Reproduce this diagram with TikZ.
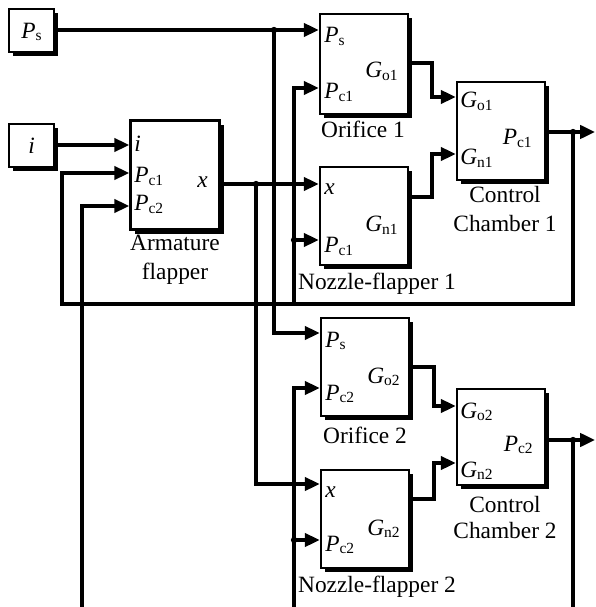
\documentclass[tikz,border=0pt]{standalone}
\usepackage{fontspec}
\setmainfont{Liberation Serif}
\usetikzlibrary{arrows.meta,shadows}
\newcommand\sig[2]{\textit{#1}\raisebox{-1.6pt}{\fontsize{8.8}{9}\selectfont #2}}
\begin{document}
\begin{tikzpicture}[x=0.02cm,y=-0.02cm,
  blk/.style={draw,fill=white,line width=1.5pt,inner sep=0pt,
    drop shadow={shadow xshift=2.4pt,shadow yshift=-2.4pt,fill=black,opacity=1}},
  wire/.style={line width=1.9pt},
  arr/.style={wire,-{Triangle[length=8.5pt,width=7.6pt]}},
  jdot/.style={circle,fill=black,inner sep=0pt,minimum size=3.6pt},
  txt/.style={inner sep=0pt,font=\fontsize{13.3}{15}\selectfont},
]
\useasboundingbox (0,0) rectangle (595,607);
% blocks
\node[blk,minimum width=0.9cm,minimum height=0.86cm] (srcPs) at (31.5,30.5) {};
\node[blk,minimum width=0.9cm,minimum height=0.86cm] (srci) at (31.5,145.5) {};
\node[blk,minimum width=1.78cm,minimum height=2.18cm] (arm) at (175,175) {};
\node[blk,minimum width=1.76cm,minimum height=2.0cm] (orf1) at (364,64) {};
\node[blk,minimum width=1.76cm,minimum height=1.96cm] (noz1) at (364,216) {};
\node[blk,minimum width=1.76cm,minimum height=1.96cm] (cc1) at (501,131) {};
\node[blk,minimum width=1.76cm,minimum height=1.96cm] (orf2) at (365,367) {};
\node[blk,minimum width=1.76cm,minimum height=1.96cm] (noz2) at (365,519) {};
\node[blk,minimum width=1.76cm,minimum height=1.92cm] (cc2) at (501,437) {};
% coordinates
\coordinate (jPs) at (274,30);
\coordinate (jX) at (256,184);
\coordinate (jC1) at (573,132);
\coordinate (jC2) at (573,440);
\coordinate (fbL) at (62,304);
\coordinate (jFb) at (294,304);
\coordinate (jN1) at (294,240);
\coordinate (jN2) at (294,540);
\coordinate (bA) at (82,610);
\coordinate (bV) at (294,610);
\coordinate (bR) at (573,610);
\coordinate (outC1) at (595,132);
\coordinate (outC2) at (595,440);
\coordinate (yI) at (0,145);
\coordinate (yA1) at (0,173);
\coordinate (yA2) at (0,206);
\coordinate (yO1) at (0,88);
\coordinate (yS2) at (0,333);
\coordinate (yO2) at (0,388);
\coordinate (yX2) at (0,484);
\coordinate (yC1a) at (0,97);
\coordinate (yC1b) at (0,154);
\coordinate (yC2a) at (0,406);
\coordinate (yC2b) at (0,463);
\coordinate (m1) at (432,63);
\coordinate (m2) at (432,197);
\coordinate (m3) at (434,367);
\coordinate (m4) at (434,499);
% connectors
\draw[arr] (srcPs.east |- jPs) -- (orf1.west |- jPs);
\draw[arr] (jPs) |- (orf2.west |- yS2);
\draw[arr] (srci.east |- yI) -- (arm.west |- yI);
\draw[arr] (arm.east |- jX) -- (noz1.west |- jX);
\draw[arr] (jX) |- (noz2.west |- yX2);
\draw[arr] (orf1.east |- m1) -- (m1) |- (cc1.west |- yC1a);
\draw[arr] (noz1.east |- m2) -- (m2) |- (cc1.west |- yC1b);
\draw[arr] (cc1.east |- jC1) -- (outC1);
\draw[arr] (jC1) -- (jC1 |- fbL) -- (fbL) |- (arm.west |- yA1);
\draw[arr] (jFb) |- (orf1.west |- yO1);
\draw[arr] (jN1) -- (noz1.west |- jN1);
\draw[arr] (cc2.east |- jC2) -- (outC2);
\draw[wire] (jC2) -- (bR);
\draw[arr] (bA) |- (arm.west |- yA2);
\draw[arr] (bV) |- (orf2.west |- yO2);
\draw[arr] (jN2) -- (noz2.west |- jN2);
\draw[arr] (orf2.east |- m3) -- (m3) |- (cc2.west |- yC2a);
\draw[arr] (noz2.east |- m4) -- (m4) |- (cc2.west |- yC2b);
\foreach \p in {jPs,jX,jC1,jC2,jN1,jN2} \node[jdot] (d\p) at (\p) {};
% labels in source boxes
\node[txt] (tPs) at (31.5,32) {\sig{P}{s}};
\node[txt] (ti) at (31.5,146) {\textit{i}};
% armature
\node[txt,anchor=base west] (a1) at (134,152) {\textit{i}};
\node[txt,anchor=base west] (a2) at (134,183) {\sig{P}{c1}};
\node[txt,anchor=base west] (a3) at (134,211) {\sig{P}{c2}};
\node[txt,anchor=base east] (a4) at (208,188) {\textit{x}};
\node[txt,anchor=base] (a5) at (175,251) {Armature};
\node[txt,anchor=base] (a6) at (175,279) {flapper};
% orifice 1
\node[txt,anchor=base west] (o1a) at (324,43) {\sig{P}{s}};
\node[txt,anchor=base west] (o1b) at (324,99) {\sig{P}{c1}};
\node[txt,anchor=base east] (o1c) at (398,78) {\sig{G}{o1}};
\node[txt,anchor=base] (o1d) at (363,138) {Orifice 1};
% nozzle 1
\node[txt,anchor=base west] (n1a) at (324,195) {\textit{x}};
\node[txt,anchor=base west] (n1b) at (324,253) {\sig{P}{c1}};
\node[txt,anchor=base east] (n1c) at (398,232) {\sig{G}{n1}};
\node[txt,anchor=base] (n1d) at (377,289) {Nozzle-flapper 1};
% chamber 1
\node[txt,anchor=base west] (c1a) at (460,108) {\sig{G}{o1}};
\node[txt,anchor=base west] (c1b) at (460,165) {\sig{G}{n1}};
\node[txt,anchor=base east] (c1c) at (532,145) {\sig{P}{c1}};
\node[txt,anchor=base] (c1d) at (505,203) {Control};
\node[txt,anchor=base] (c1e) at (505,232) {Chamber 1};
% orifice 2
\node[txt,anchor=base west] (o2a) at (325,347) {\sig{P}{s}};
\node[txt,anchor=base west] (o2b) at (325,400) {\sig{P}{c2}};
\node[txt,anchor=base east] (o2c) at (400,383) {\sig{G}{o2}};
\node[txt,anchor=base] (o2d) at (365,443) {Orifice 2};
% nozzle 2
\node[txt,anchor=base west] (n2a) at (325,497) {\textit{x}};
\node[txt,anchor=base west] (n2b) at (325,551) {\sig{P}{c2}};
\node[txt,anchor=base east] (n2c) at (400,535) {\sig{G}{n2}};
\node[txt,anchor=base] (n2d) at (377,592) {Nozzle-flapper 2};
% chamber 2
\node[txt,anchor=base west] (c2a) at (460,418) {\sig{G}{o2}};
\node[txt,anchor=base west] (c2b) at (460,477) {\sig{G}{n2}};
\node[txt,anchor=base east] (c2c) at (533,451) {\sig{P}{c2}};
\node[txt,anchor=base] (c2d) at (505,512) {Control};
\node[txt,anchor=base] (c2e) at (505,538) {Chamber 2};
\end{tikzpicture}
\end{document}
